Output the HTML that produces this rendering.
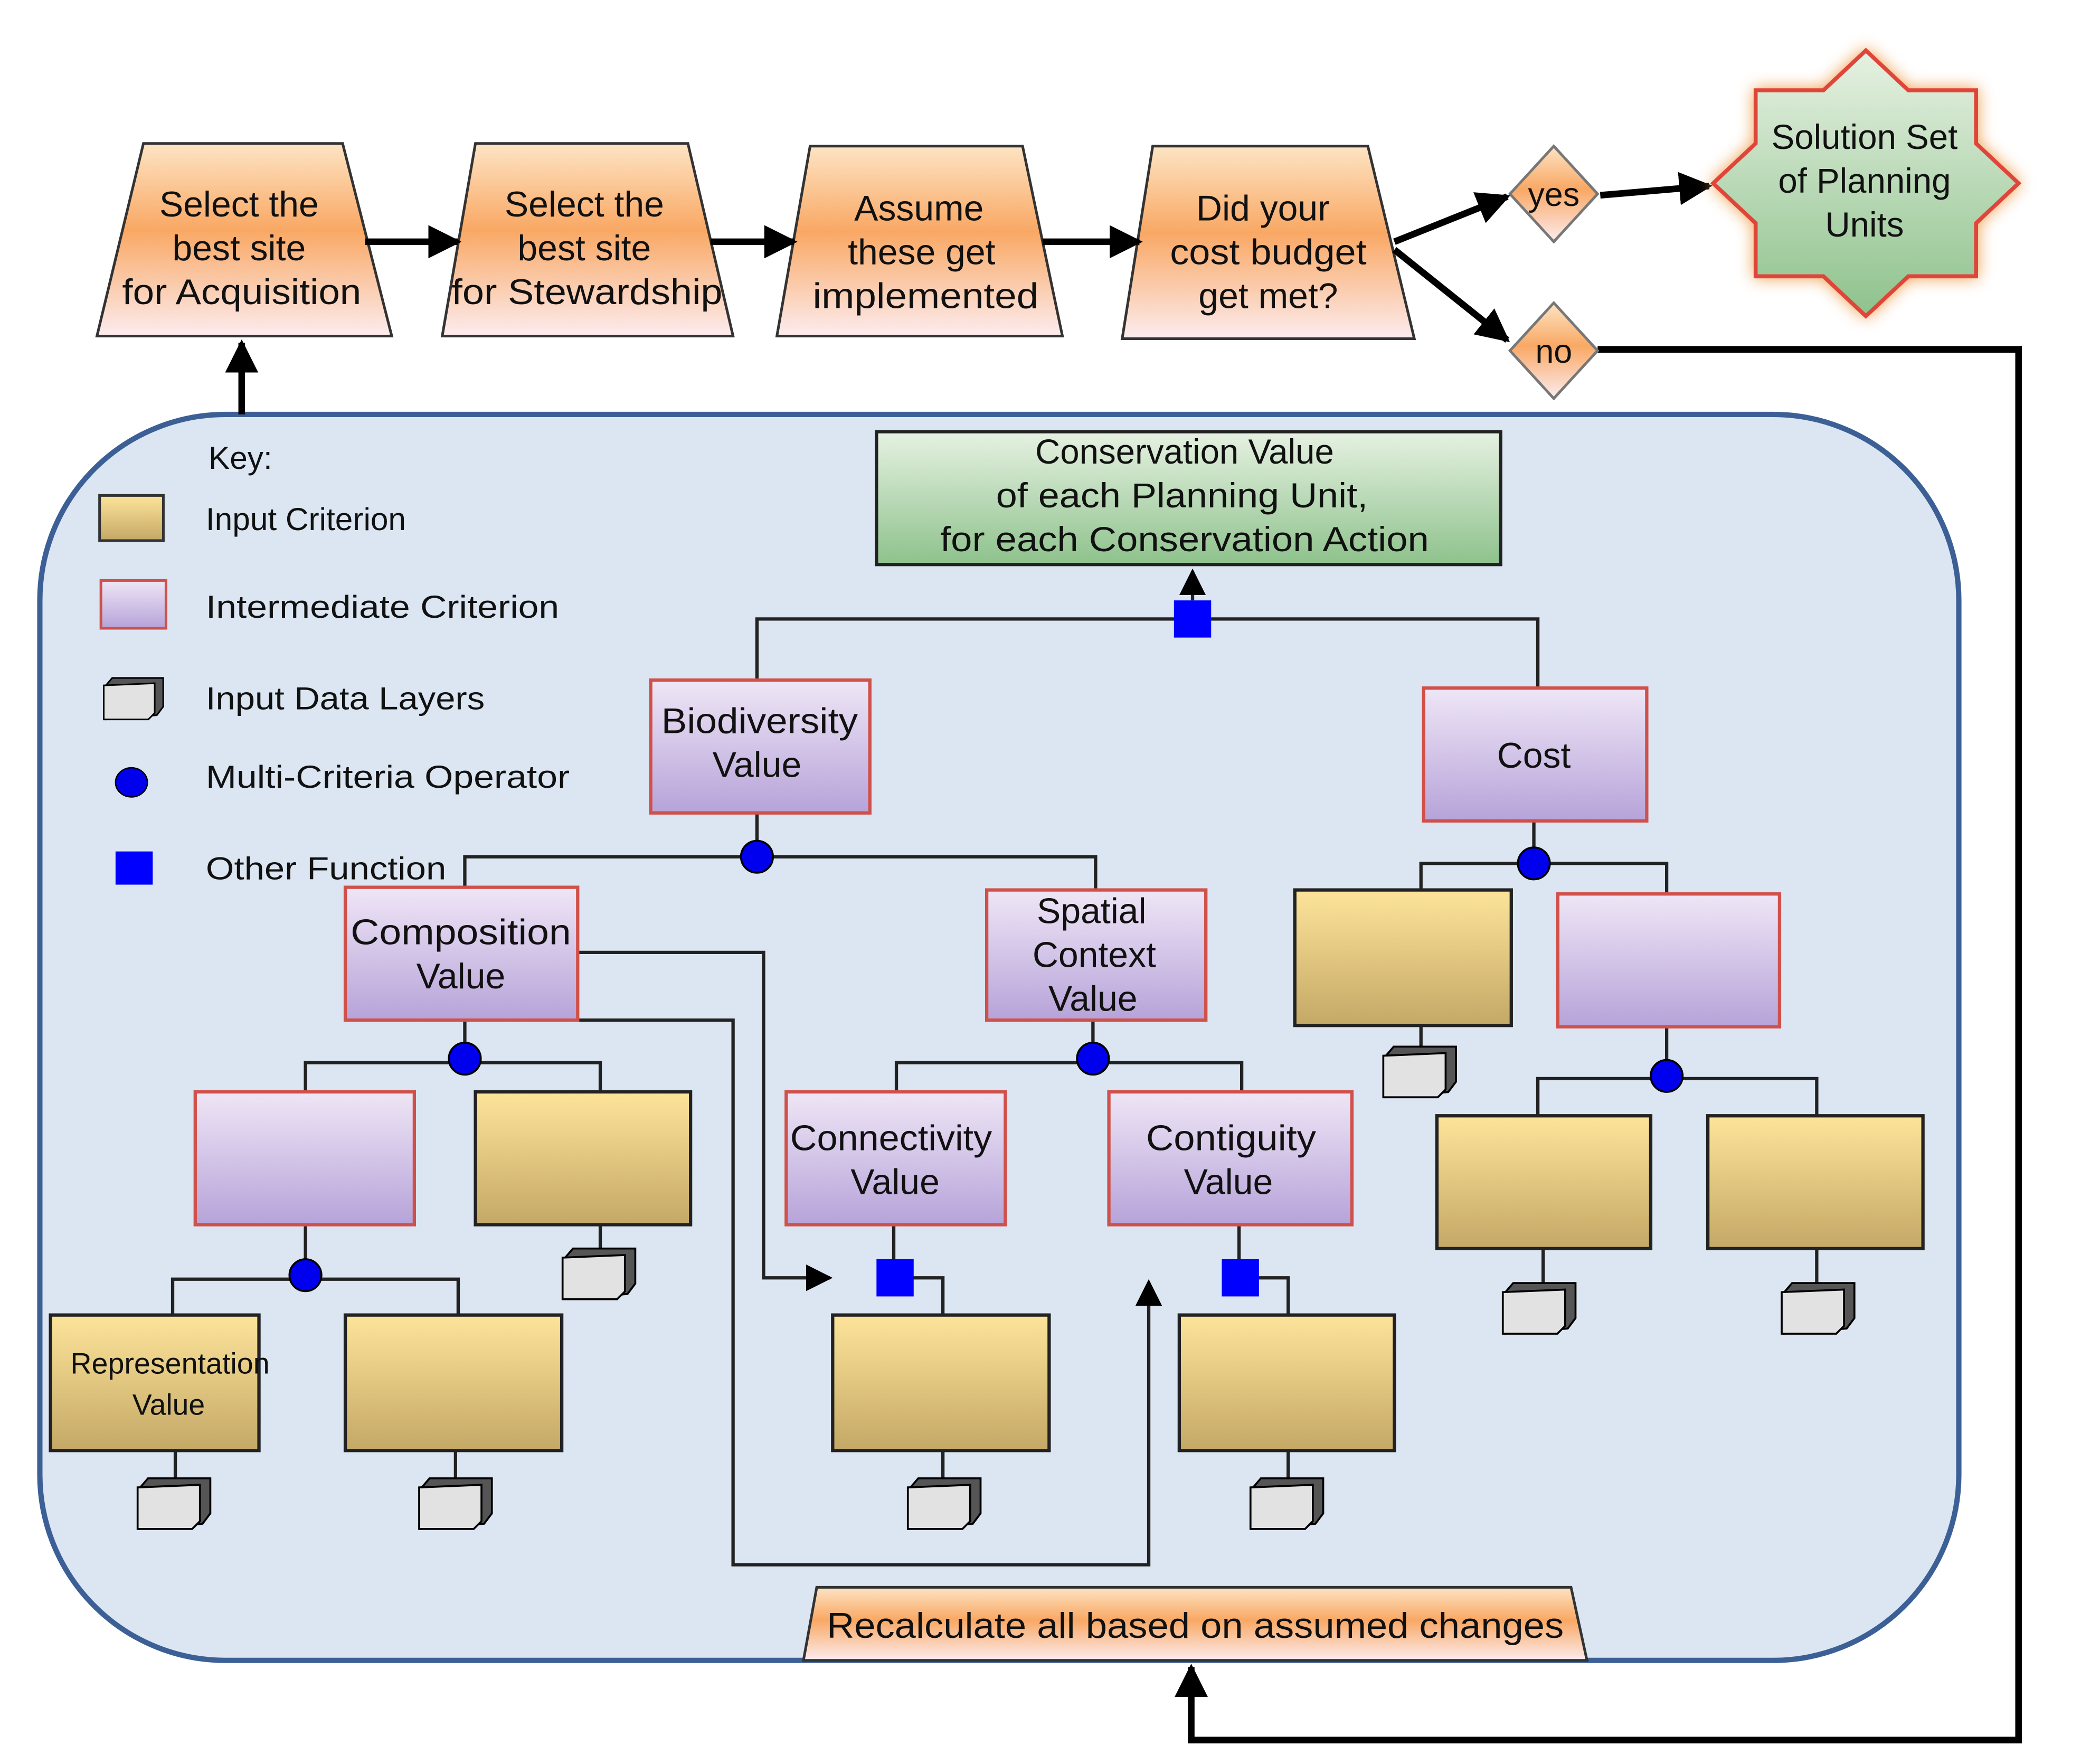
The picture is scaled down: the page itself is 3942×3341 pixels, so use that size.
<!DOCTYPE html>
<html><head><meta charset="utf-8"><style>html,body{margin:0;padding:0;background:#fff}svg{display:block}text{font-family:"Liberation Sans",sans-serif;fill:#111}</style></head>
<body>
<svg width="3942" height="3341" viewBox="0 0 1567 1328" preserveAspectRatio="none" xmlns="http://www.w3.org/2000/svg">
<defs>
<linearGradient id="or" x1="0" y1="0" x2="0" y2="1"><stop offset="0" stop-color="#fde4c4"/><stop offset="0.45" stop-color="#f9a864"/><stop offset="1" stop-color="#fcecef"/></linearGradient>
<linearGradient id="tan" x1="0" y1="0" x2="0" y2="1"><stop offset="0" stop-color="#fde49a"/><stop offset="1" stop-color="#c4a866"/></linearGradient>
<linearGradient id="pu" x1="0" y1="0" x2="0" y2="1"><stop offset="0" stop-color="#efe6f6"/><stop offset="1" stop-color="#b6a3d9"/></linearGradient>
<linearGradient id="gr" x1="0" y1="0" x2="0" y2="1"><stop offset="0" stop-color="#e6f1e2"/><stop offset="1" stop-color="#8ec28c"/></linearGradient>
<marker id="ar" viewBox="0 0 10 10" refX="9" refY="5" markerWidth="5" markerHeight="5" orient="auto"><path d="M0,0L10,5L0,10z" fill="#000"/></marker>
<marker id="as" viewBox="0 0 10 10" refX="9" refY="5" markerWidth="8" markerHeight="8" orient="auto"><path d="M0,0L10,5L0,10z" fill="#000"/></marker>
<symbol id="dl" viewBox="0 0 60 45"><path d="M10,3 L58,3 L58,30 L52,38 L4,42 L4,10 Z" fill="#555" stroke="#000" stroke-width="1.5"/><path d="M2,10 L50,8 L50,36 L44,42 L2,42 Z" fill="#e2e2e2" stroke="#000" stroke-width="1.5"/></symbol>
</defs>

<rect x="30" y="312" width="1445" height="938" rx="140" fill="#dce6f2" stroke="#3c6096" stroke-width="4"/>

<g stroke="#333" stroke-width="2" fill="url(#or)">
<path d="M108,108 L258,108 L295,253 L73,253 Z"/>
<path d="M358,108 L518,108 L552,253 L333,253 Z"/>
<path d="M610,110 L770,110 L800,253 L585,253 Z"/>
<path d="M868,110 L1030,110 L1065,255 L845,255 Z"/>
<path d="M615,1195 L1183,1195 L1195,1250 L605,1250 Z"/>
</g>
<g font-size="27" text-anchor="middle">
<text x="180" y="163">Select the</text><text x="180" y="196">best site</text><text x="182" y="229" textLength="180" lengthAdjust="spacingAndGlyphs">for Acquisition</text>
<text x="440" y="163">Select the</text><text x="440" y="196">best site</text><text x="442" y="229" textLength="204" lengthAdjust="spacingAndGlyphs">for Stewardship</text>
<text x="692" y="166">Assume</text><text x="694" y="199">these get</text><text x="697" y="232" textLength="170" lengthAdjust="spacingAndGlyphs">implemented</text>
<text x="951" y="166">Did your</text><text x="955" y="199" textLength="148" lengthAdjust="spacingAndGlyphs">cost budget</text><text x="955" y="232">get met?</text>
<text x="900" y="1233" textLength="555" lengthAdjust="spacingAndGlyphs">Recalculate all based on assumed changes</text>
</g>

<g stroke="#000" stroke-width="5" fill="none">
<line x1="275" y1="182" x2="345" y2="182" marker-end="url(#ar)"/>
<line x1="535" y1="182" x2="598" y2="182" marker-end="url(#ar)"/>
<line x1="785" y1="182" x2="858" y2="182" marker-end="url(#ar)"/>
<line x1="1050" y1="182" x2="1135" y2="148" marker-end="url(#ar)"/>
<line x1="1050" y1="188" x2="1135" y2="256" marker-end="url(#ar)"/>
<line x1="1205" y1="147" x2="1287" y2="140" marker-end="url(#ar)"/>
<polyline points="1203,263 1520,263 1520,1310 897,1310 897,1255" marker-end="url(#ar)"/>
<line x1="182" y1="312" x2="182" y2="258" marker-end="url(#ar)"/>
</g>

<g fill="url(#or)" stroke="#777" stroke-width="2">
<path d="M1170,110 L1203,146 L1170,182 L1137,146 Z"/>
<path d="M1170,228 L1203,264 L1170,300 L1137,264 Z"/>
</g>
<text x="1170" y="155" font-size="25" text-anchor="middle">yes</text>
<text x="1170" y="273" font-size="25" text-anchor="middle">no</text>

<path d="M1405,38 L1437,68 L1488,68 L1488,108 L1520,138 L1488,168 L1488,208 L1437,208 L1405,238 L1373,208 L1322,208 L1322,168 L1290,138 L1322,108 L1322,68 L1373,68 Z" fill="url(#gr)" stroke="#e0453a" stroke-width="3" style="filter:drop-shadow(0 0 6px #f0a050)"/>
<g font-size="26" text-anchor="middle"><text x="1404" y="112">Solution Set</text><text x="1404" y="145">of Planning</text><text x="1404" y="178">Units</text></g>

<g font-size="24">
<text x="157" y="353">Key:</text>
<text x="155" y="399">Input Criterion</text>
<text x="155" y="465" textLength="266" lengthAdjust="spacingAndGlyphs">Intermediate Criterion</text>
<text x="155" y="534" textLength="210" lengthAdjust="spacingAndGlyphs">Input Data Layers</text>
<text x="155" y="593" textLength="274" lengthAdjust="spacingAndGlyphs">Multi-Criteria Operator</text>
<text x="155" y="662" textLength="181" lengthAdjust="spacingAndGlyphs">Other Function</text>
</g>
<rect x="75" y="373" width="48" height="34" fill="url(#tan)" stroke="#333" stroke-width="2"/>
<rect x="76" y="437" width="49" height="36" fill="url(#pu)" stroke="#d0504a" stroke-width="2"/>
<use href="#dl" x="73" y="508" width="55" height="36"/>
<ellipse cx="99" cy="589" rx="12" ry="11" fill="#0000ee" stroke="#000"/>
<rect x="87" y="641" width="28" height="25" fill="#0000ff"/>

<g stroke="#222" stroke-width="2.5" fill="none">
<polyline points="570,512 570,466 1158,466 1158,518"/>
<polyline points="350,668 350,645 825,645 825,670"/>
<line x1="570" y1="612" x2="570" y2="645"/>
<line x1="1155" y1="618" x2="1155" y2="650"/>
<polyline points="1070,670 1070,650 1255,650 1255,673"/>
<line x1="1070" y1="772" x2="1070" y2="790"/>
<line x1="1255" y1="773" x2="1255" y2="812"/>
<polyline points="1158,840 1158,812 1368,812 1368,840"/>
<line x1="1162" y1="940" x2="1162" y2="968"/>
<line x1="1368" y1="940" x2="1368" y2="968"/>
<line x1="350" y1="768" x2="350" y2="800"/>
<polyline points="230,822 230,800 452,800 452,822"/>
<line x1="452" y1="922" x2="452" y2="942"/>
<line x1="230" y1="922" x2="230" y2="963"/>
<polyline points="130,990 130,963 345,963 345,990"/>
<line x1="132" y1="1092" x2="132" y2="1115"/>
<line x1="343" y1="1092" x2="343" y2="1115"/>
<line x1="823" y1="768" x2="823" y2="800"/>
<polyline points="675,822 675,800 935,800 935,822"/>
<line x1="673" y1="922" x2="673" y2="962"/>
<line x1="933" y1="922" x2="933" y2="962"/>
<polyline points="673,962 710,962 710,990"/>
<polyline points="933,962 970,962 970,990"/>
<line x1="710" y1="1092" x2="710" y2="1115"/>
<line x1="970" y1="1092" x2="970" y2="1115"/>
<polyline points="435,717 575,717 575,962 625,962" marker-end="url(#as)"/>
<polyline points="435,768 552,768 552,1178 865,1178 865,965" marker-end="url(#as)"/>
<line x1="898" y1="452" x2="898" y2="430" marker-end="url(#as)"/>
</g>

<rect x="660" y="325" width="470" height="100" fill="url(#gr)" stroke="#222" stroke-width="2.5"/>
<g font-size="26" text-anchor="middle"><text x="892" y="349">Conservation Value</text><text x="890" y="382" textLength="280" lengthAdjust="spacingAndGlyphs">of each Planning Unit,</text><text x="892" y="415" textLength="368" lengthAdjust="spacingAndGlyphs">for each Conservation Action</text></g>

<g fill="url(#pu)" stroke="#d0504a" stroke-width="2.5">
<rect x="490" y="512" width="165" height="100"/>
<rect x="1072" y="518" width="168" height="100"/>
<rect x="260" y="668" width="175" height="100"/>
<rect x="743" y="670" width="165" height="98"/>
<rect x="1173" y="673" width="167" height="100"/>
<rect x="147" y="822" width="165" height="100"/>
<rect x="592" y="822" width="165" height="100"/>
<rect x="835" y="822" width="183" height="100"/>
</g>
<g fill="url(#tan)" stroke="#222" stroke-width="2.5">
<rect x="975" y="670" width="163" height="102"/>
<rect x="1082" y="840" width="161" height="100"/>
<rect x="1286" y="840" width="162" height="100"/>
<rect x="358" y="822" width="162" height="100"/>
<rect x="38" y="990" width="157" height="102"/>
<rect x="260" y="990" width="163" height="102"/>
<rect x="627" y="990" width="163" height="102"/>
<rect x="888" y="990" width="162" height="102"/>
</g>

<g font-size="27" text-anchor="middle">
<text x="572" y="552" textLength="148" lengthAdjust="spacingAndGlyphs">Biodiversity</text><text x="570" y="585">Value</text>
<text x="1155" y="578">Cost</text>
<text x="347" y="711" textLength="166" lengthAdjust="spacingAndGlyphs">Composition</text><text x="347" y="744">Value</text>
<text x="822" y="695">Spatial</text><text x="824" y="728">Context</text><text x="823" y="761">Value</text>
<text x="671" y="866" textLength="152" lengthAdjust="spacingAndGlyphs">Connectivity</text><text x="674" y="899">Value</text>
<text x="927" y="866" textLength="128" lengthAdjust="spacingAndGlyphs">Contiguity</text><text x="925" y="899">Value</text>
</g>
<g font-size="22" text-anchor="middle"><text x="128" y="1034" textLength="150" lengthAdjust="spacingAndGlyphs">Representation</text><text x="127" y="1065">Value</text></g>

<g fill="#0000ee" stroke="#000" stroke-width="1.5">
<circle cx="570" cy="645" r="12"/><circle cx="1155" cy="650" r="12"/><circle cx="1255" cy="810" r="12"/>
<circle cx="350" cy="797" r="12"/><circle cx="230" cy="960" r="12"/><circle cx="823" cy="797" r="12"/>
</g>
<g fill="#0000ff">
<rect x="884" y="452" width="28" height="28"/>
<rect x="660" y="948" width="28" height="28"/>
<rect x="920" y="948" width="28" height="28"/>
</g>

<use href="#dl" x="1038" y="785" width="62" height="44"/>
<use href="#dl" x="1128" y="963" width="62" height="44"/>
<use href="#dl" x="1338" y="963" width="62" height="44"/>
<use href="#dl" x="420" y="937" width="62" height="44"/>
<use href="#dl" x="100" y="1110" width="62" height="44"/>
<use href="#dl" x="312" y="1110" width="62" height="44"/>
<use href="#dl" x="680" y="1110" width="62" height="44"/>
<use href="#dl" x="938" y="1110" width="62" height="44"/>
</svg>
</body></html>
